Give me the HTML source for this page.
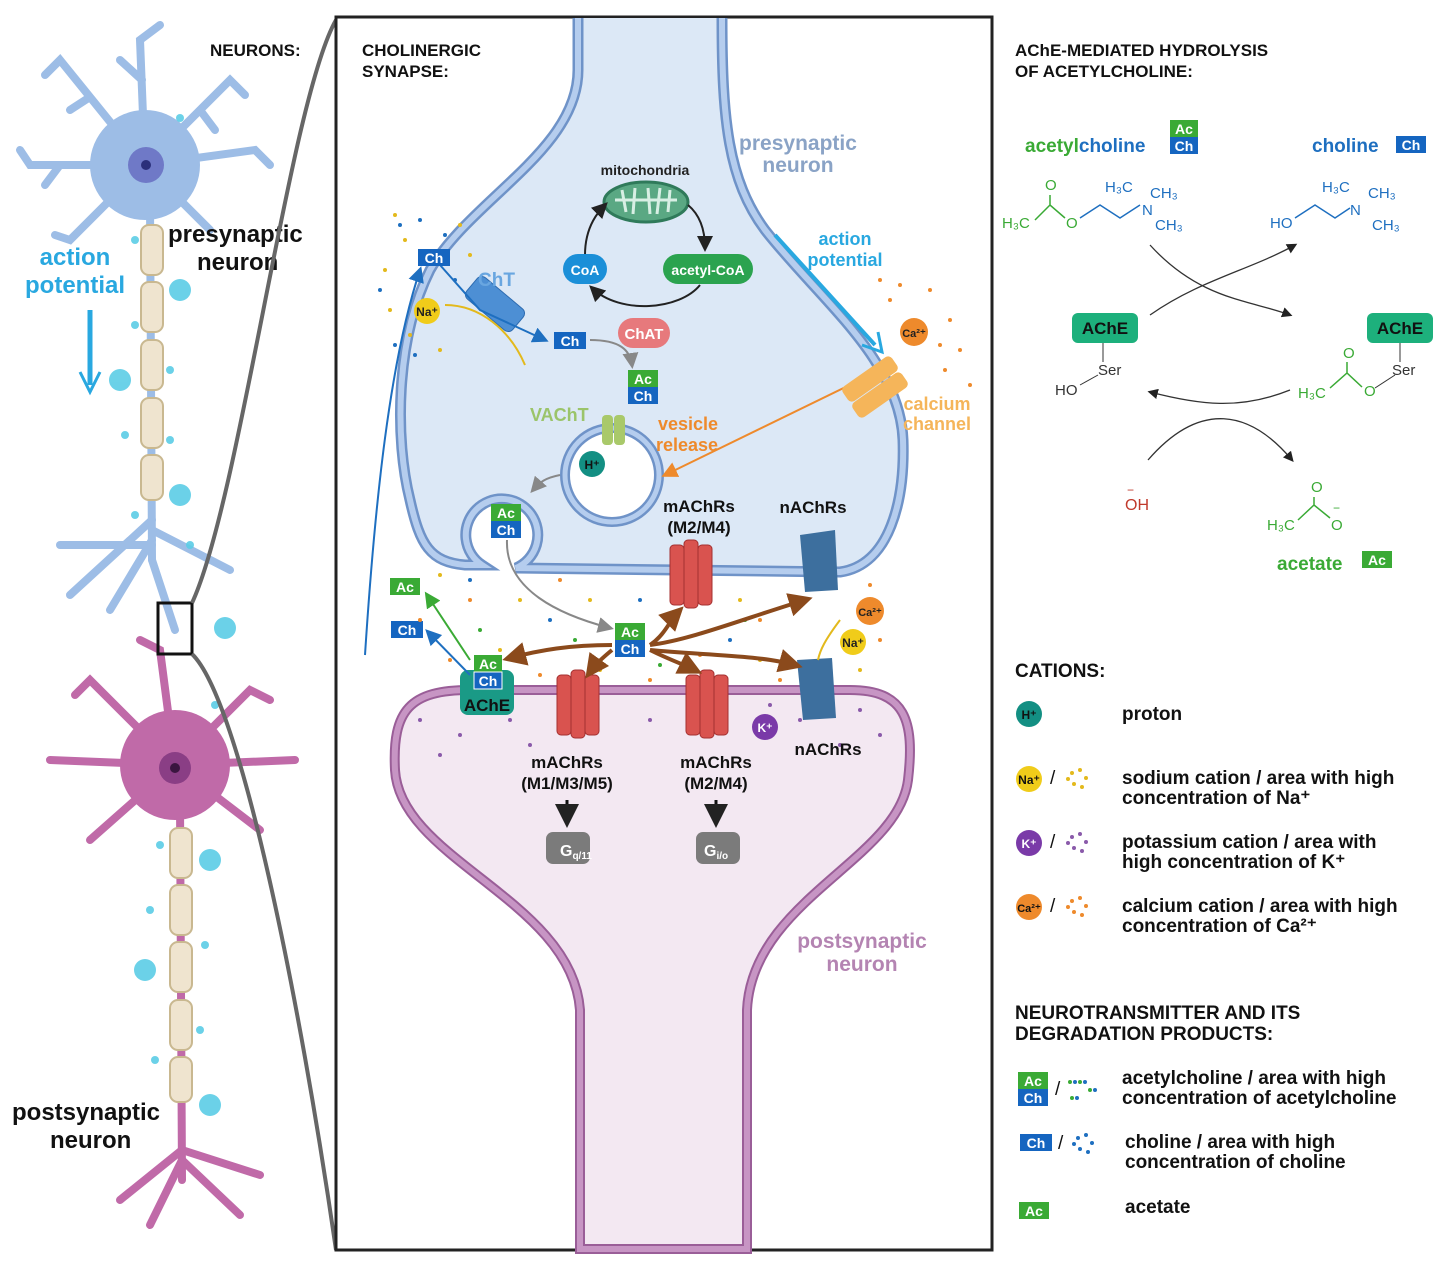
<!DOCTYPE html>
<html><head><meta charset="utf-8"><style>
html,body{margin:0;padding:0;background:#fff}
svg{display:block;font-family:"Liberation Sans",sans-serif}
.b{font-weight:bold}
</style></head><body>
<svg width="1446" height="1265" viewBox="0 0 1446 1265" xmlns="http://www.w3.org/2000/svg">
<defs>
<marker id="ak" markerWidth="8" markerHeight="8" refX="6" refY="4" orient="auto"><path d="M0,0 L8,4 L0,8 Z" fill="#222"/></marker>
<marker id="ag" markerWidth="8" markerHeight="8" refX="6" refY="4" orient="auto"><path d="M0,0 L8,4 L0,8 Z" fill="#888"/></marker>
<marker id="ab" markerWidth="8" markerHeight="8" refX="6" refY="4" orient="auto"><path d="M0,0 L8,4 L0,8 Z" fill="#1e6fc0"/></marker>
<marker id="ao" markerWidth="8" markerHeight="8" refX="6" refY="4" orient="auto"><path d="M0,0 L8,4 L0,8 Z" fill="#ee8a2c"/></marker>
<marker id="abr" markerWidth="6" markerHeight="6" refX="4" refY="3" orient="auto"><path d="M0,0 L6,3 L0,6 Z" fill="#8b4a1c"/></marker>
<marker id="agr" markerWidth="8" markerHeight="8" refX="6" refY="4" orient="auto"><path d="M0,0 L8,4 L0,8 Z" fill="#3aaa35"/></marker>
</defs>

<!-- LEFT: neurons -->
<g stroke="#9dbde6" stroke-width="8" stroke-linecap="round" fill="none">
<path d="M145,165 L60,60 L45,75 M90,97 L70,110"/><path d="M145,165 L140,40 L160,25 M142,80 L120,60"/><path d="M145,165 L230,80 L245,95 M200,110 L215,130"/><path d="M145,165 L30,165 L20,150 M60,165 L45,185"/><path d="M145,165 L255,150 L270,165"/><path d="M145,165 L70,240 L55,235"/><path d="M145,165 L210,230"/>
<path d="M150,200 L152,560"/><path d="M152,520 L70,595"/><path d="M152,540 L110,610"/><path d="M152,530 L230,570"/><path d="M152,560 L175,630"/><path d="M152,545 L60,545"/>
</g>
<circle cx="145" cy="165" r="55" fill="#9dbde6"/><circle cx="146" cy="165" r="18" fill="#6f79c7"/><circle cx="146" cy="165" r="5" fill="#2b2f7a"/>
<g fill="#efe4cf" stroke="#c9b890" stroke-width="2">
<rect x="141" y="225" width="22" height="50" rx="8"/><rect x="141" y="282" width="22" height="50" rx="8"/><rect x="141" y="340" width="22" height="50" rx="8"/><rect x="141" y="398" width="22" height="50" rx="8"/><rect x="141" y="455" width="22" height="45" rx="8"/>
</g>
<g stroke="#c06aa8" stroke-width="8" stroke-linecap="round" fill="none">
<path d="M175,765 L90,680 L75,695"/><path d="M175,765 L160,650 L140,640"/><path d="M175,765 L250,690 L270,700"/><path d="M175,765 L50,760"/><path d="M175,765 L295,760"/><path d="M175,765 L90,840"/><path d="M175,765 L260,830"/>
<path d="M180,800 L182,1180"/><path d="M182,1150 L120,1200"/><path d="M182,1160 L150,1225"/><path d="M182,1160 L240,1215"/><path d="M182,1150 L260,1175"/>
</g>
<circle cx="175" cy="765" r="55" fill="#c06aa8"/><circle cx="175" cy="768" r="16" fill="#8a3e85"/><circle cx="175" cy="768" r="5" fill="#3a1540"/>
<g fill="#efe4cf" stroke="#c9b890" stroke-width="2">
<rect x="170" y="828" width="22" height="50" rx="8"/><rect x="170" y="885" width="22" height="50" rx="8"/><rect x="170" y="942" width="22" height="50" rx="8"/><rect x="170" y="1000" width="22" height="50" rx="8"/><rect x="170" y="1057" width="22" height="45" rx="8"/>
</g>
<g fill="#5ccde6" opacity="0.9">
<circle cx="180" cy="290" r="11"/><circle cx="120" cy="380" r="11"/><circle cx="180" cy="495" r="11"/><circle cx="225" cy="628" r="11"/><circle cx="210" cy="860" r="11"/><circle cx="145" cy="970" r="11"/><circle cx="210" cy="1105" r="11"/>
<circle cx="180" cy="118" r="4"/><circle cx="135" cy="240" r="4"/><circle cx="135" cy="325" r="4"/><circle cx="170" cy="370" r="4"/><circle cx="125" cy="435" r="4"/><circle cx="170" cy="440" r="4"/><circle cx="135" cy="515" r="4"/><circle cx="190" cy="545" r="4"/><circle cx="215" cy="705" r="4"/><circle cx="160" cy="845" r="4"/><circle cx="150" cy="910" r="4"/><circle cx="205" cy="945" r="4"/><circle cx="200" cy="1030" r="4"/><circle cx="155" cy="1060" r="4"/>
</g>
<text x="210" y="56" font-size="17" class="b" fill="#111">NEURONS:</text>
<text x="168" y="242" font-size="24" class="b" fill="#111">presynaptic</text>
<text x="197" y="270" font-size="24" class="b" fill="#111">neuron</text>
<text x="75" y="265" font-size="24" class="b" fill="#29a8e0" text-anchor="middle">action</text>
<text x="75" y="293" font-size="24" class="b" fill="#29a8e0" text-anchor="middle">potential</text>
<path d="M90,310 L90,385" stroke="#29a8e0" stroke-width="5" fill="none"/><path d="M80,372 L90,392 L100,372" stroke="#29a8e0" stroke-width="3" fill="none"/>
<text x="12" y="1120" font-size="24" class="b" fill="#111">postsynaptic</text>
<text x="50" y="1148" font-size="24" class="b" fill="#111">neuron</text>
<rect x="158" y="603" width="34" height="51" fill="none" stroke="#111" stroke-width="3"/>
<path d="M192,603 C240,500 290,100 336,20" stroke="#666" stroke-width="4" fill="none"/>
<path d="M192,654 C240,700 300,1000 336,1250" stroke="#666" stroke-width="4" fill="none"/>

<!-- MIDDLE panel -->
<rect x="336" y="17" width="656" height="1233" fill="#fff" stroke="#222" stroke-width="3"/>
<!-- postsynaptic -->
<path d="M395,770 C392,710 410,690 470,690 L850,690 C905,690 915,720 908,780 C898,860 752,900 747,1010 L747,1249 L580,1249 L580,1010 C572,900 400,860 395,770 Z" fill="#f3e8f2" stroke="#9a5e98" stroke-width="10"/>
<path d="M395,770 C392,710 410,690 470,690 L850,690 C905,690 915,720 908,780 C898,860 752,900 747,1010 L747,1249 L580,1249 L580,1010 C572,900 400,860 395,770 Z" fill="none" stroke="#c795c4" stroke-width="6"/>
<!-- presynaptic -->
<path d="M578,18 L578,70 C578,150 470,200 430,270 C395,340 395,440 410,500 C420,545 430,562 465,565 L482,565 A36,36 0 1 1 516,568 L840,572 C890,565 905,500 903,440 C900,360 820,300 765,230 C728,180 722,120 722,18" fill="#dce8f6" stroke="#6f93c8" stroke-width="11"/>
<path d="M578,18 L578,70 C578,150 470,200 430,270 C395,340 395,440 410,500 C420,545 430,562 465,565 L482,565 A36,36 0 1 1 516,568 L840,572 C890,565 905,500 903,440 C900,360 820,300 765,230 C728,180 722,120 722,18" fill="none" stroke="#b5cdee" stroke-width="6"/>
<text x="362" y="56" font-size="17" class="b" fill="#111">CHOLINERGIC</text>
<text x="362" y="77" font-size="17" class="b" fill="#111">SYNAPSE:</text>
<text x="798" y="150" font-size="21" class="b" fill="#8aa3c6" text-anchor="middle">presynaptic</text>
<text x="798" y="172" font-size="21" class="b" fill="#8aa3c6" text-anchor="middle">neuron</text>
<text x="862" y="948" font-size="21" class="b" fill="#b484b2" text-anchor="middle">postsynaptic</text>
<text x="862" y="971" font-size="21" class="b" fill="#b484b2" text-anchor="middle">neuron</text>
<!-- mitochondria cycle -->
<text x="645" y="175" font-size="14" class="b" fill="#222" text-anchor="middle">mitochondria</text>
<ellipse cx="646" cy="202" rx="42" ry="20" fill="#5aa883" stroke="#2f7a5a" stroke-width="3"/>
<path d="M615,200 L677,200 M622,190 L626,212 M635,188 L633,214 M648,188 L650,214 M660,188 L657,214 M670,190 L668,212" stroke="#d8efe4" stroke-width="3"/>
<path d="M585,255 C585,225 600,210 605,205" stroke="#222" stroke-width="2" fill="none" marker-end="url(#ak)"/>
<path d="M688,205 C700,215 705,230 705,248" stroke="#222" stroke-width="2" fill="none" marker-end="url(#ak)"/>
<path d="M700,285 C680,310 620,315 592,288" stroke="#222" stroke-width="2" fill="none" marker-end="url(#ak)"/>
<rect x="563" y="254" width="44" height="30" rx="15" fill="#1b8fd8"/><text x="585" y="275" font-size="14" class="b" fill="#fff" text-anchor="middle">CoA</text>
<rect x="663" y="254" width="90" height="30" rx="15" fill="#2ba34f"/><text x="708" y="275" font-size="14" class="b" fill="#fff" text-anchor="middle">acetyl-CoA</text>
<rect x="618" y="318" width="52" height="30" rx="15" fill="#e7797c"/><text x="644" y="339" font-size="15" class="b" fill="#fff" text-anchor="middle">ChAT</text>
<!-- ChT -->
<rect x="465" y="290" width="60" height="28" rx="6" fill="#4d8fd4" stroke="#2d6bb0" transform="rotate(40 495 304)"/>
<text x="478" y="286" font-size="19" class="b" fill="#69a6e0">ChT</text>
<path d="M440,265 L480,310 L545,340" stroke="#1e6fc0" stroke-width="2" fill="none" marker-end="url(#ab)"/>
<path d="M445,305 C480,305 510,330 525,365" stroke="#e3b91c" stroke-width="2" fill="none"/>
<circle cx="427" cy="311" r="13" fill="#f0cc1a"/><text x="427" y="316" font-size="12" class="b" text-anchor="middle" fill="#222">Na⁺</text>
<path d="M365,655 C375,500 390,360 420,270" stroke="#1e6fc0" stroke-width="2" fill="none" marker-end="url(#ab)"/>
<!-- Ch / AcCh boxes -->
<g font-size="14" class="b" text-anchor="middle" fill="#fff">
<rect x="418" y="249" width="32" height="17" fill="#1565c0"/><text x="434" y="263">Ch</text>
<rect x="554" y="332" width="32" height="17" fill="#1565c0"/><text x="570" y="346">Ch</text>
<rect x="628" y="370" width="30" height="17" fill="#3aaa35"/><text x="643" y="384">Ac</text>
<rect x="628" y="387" width="30" height="17" fill="#1565c0"/><text x="643" y="401">Ch</text>
<rect x="612" y="464" width="30" height="17" fill="#3aaa35"/><text x="627" y="478">Ac</text>
<rect x="612" y="481" width="30" height="17" fill="#1565c0"/><text x="627" y="495">Ch</text>
<rect x="491" y="504" width="30" height="17" fill="#3aaa35"/><text x="506" y="518">Ac</text>
<rect x="491" y="521" width="30" height="17" fill="#1565c0"/><text x="506" y="535">Ch</text>
<rect x="615" y="623" width="30" height="17" fill="#3aaa35"/><text x="630" y="637">Ac</text>
<rect x="615" y="640" width="30" height="17" fill="#1565c0"/><text x="630" y="654">Ch</text>
<rect x="390" y="578" width="30" height="17" fill="#3aaa35"/><text x="405" y="592">Ac</text>
<rect x="391" y="621" width="32" height="17" fill="#1565c0"/><text x="407" y="635">Ch</text>
</g>
<path d="M590,340 C620,340 630,350 632,365" stroke="#888" stroke-width="2" fill="none" marker-end="url(#ag)"/>
<!-- VAChT & vesicle -->
<text x="530" y="421" font-size="18" class="b" fill="#9bc46a">VAChT</text>
<circle cx="612" cy="475" r="47" fill="#fff" stroke="#6f93c8" stroke-width="10"/>
<circle cx="612" cy="475" r="47" fill="none" stroke="#b5cdee" stroke-width="5"/>
<rect x="602" y="415" width="11" height="30" rx="4" fill="#a9c96a"/><rect x="614" y="415" width="11" height="30" rx="4" fill="#a9c96a"/>
<circle cx="592" cy="464" r="13" fill="#138f83"/><text x="592" y="469" font-size="12" class="b" fill="#111" text-anchor="middle">H⁺</text>
<text x="658" y="430" font-size="18" class="b" fill="#ee8a2c">vesicle</text>
<text x="656" y="451" font-size="18" class="b" fill="#ee8a2c">release</text>
<path d="M860,380 L665,475" stroke="#ee8a2c" stroke-width="2" fill="none" marker-end="url(#ao)"/>
<path d="M560,475 C545,478 540,482 533,490" stroke="#888" stroke-width="2" fill="none" marker-end="url(#ag)"/>
<path d="M507,540 C505,590 560,615 610,628" stroke="#888" stroke-width="2" fill="none" marker-end="url(#ag)"/>
<!-- calcium channel, action potential -->
<text x="845" y="245" font-size="18" class="b" fill="#29a8e0" text-anchor="middle">action</text>
<text x="845" y="266" font-size="18" class="b" fill="#29a8e0" text-anchor="middle">potential</text>
<path d="M775,235 L875,345" stroke="#29a8e0" stroke-width="4" fill="none"/><path d="M862,345 L882,352 L878,332" stroke="#29a8e0" stroke-width="3" fill="none"/>
<rect x="840" y="370" width="60" height="18" rx="5" fill="#f5b55a" transform="rotate(-35 870 379)"/><rect x="850" y="386" width="60" height="18" rx="5" fill="#f5b55a" transform="rotate(-35 880 395)"/>
<circle cx="914" cy="332" r="14" fill="#ee8a2c"/><text x="914" y="337" font-size="11" class="b" fill="#222" text-anchor="middle">Ca²⁺</text>
<text x="937" y="410" font-size="18" class="b" fill="#f5b55a" text-anchor="middle">calcium</text>
<text x="937" y="430" font-size="18" class="b" fill="#f5b55a" text-anchor="middle">channel</text>
<!-- dots -->
<g fill="#ee8a2c"><circle cx="890" cy="300" r="2"/><circle cx="930" cy="290" r="2"/><circle cx="950" cy="320" r="2"/><circle cx="960" cy="350" r="2"/><circle cx="945" cy="370" r="2"/><circle cx="970" cy="385" r="2"/><circle cx="900" cy="285" r="2"/><circle cx="940" cy="345" r="2"/><circle cx="880" cy="280" r="2"/>
<circle cx="420" cy="620" r="2"/><circle cx="470" cy="600" r="2"/><circle cx="560" cy="580" r="2"/><circle cx="700" cy="655" r="2"/><circle cx="760" cy="620" r="2"/><circle cx="870" cy="585" r="2"/><circle cx="880" cy="640" r="2"/><circle cx="540" cy="675" r="2"/><circle cx="650" cy="680" r="2"/><circle cx="450" cy="660" r="2"/><circle cx="780" cy="680" r="2"/></g>
<g fill="#e3b91c"><circle cx="395" cy="215" r="2"/><circle cx="405" cy="240" r="2"/><circle cx="385" cy="270" r="2"/><circle cx="390" cy="310" r="2"/><circle cx="410" cy="335" r="2"/><circle cx="440" cy="350" r="2"/><circle cx="460" cy="225" r="2"/><circle cx="470" cy="255" r="2"/><circle cx="440" cy="575" r="2"/><circle cx="520" cy="600" r="2"/><circle cx="590" cy="600" r="2"/><circle cx="740" cy="600" r="2"/><circle cx="760" cy="660" r="2"/><circle cx="600" cy="670" r="2"/><circle cx="500" cy="650" r="2"/><circle cx="860" cy="670" r="2"/></g>
<g fill="#1e6fc0"><circle cx="400" cy="225" r="2"/><circle cx="420" cy="220" r="2"/><circle cx="445" cy="235" r="2"/><circle cx="380" cy="290" r="2"/><circle cx="395" cy="345" r="2"/><circle cx="415" cy="355" r="2"/><circle cx="455" cy="280" r="2"/><circle cx="470" cy="580" r="2"/><circle cx="550" cy="620" r="2"/><circle cx="680" cy="590" r="2"/><circle cx="730" cy="640" r="2"/><circle cx="640" cy="600" r="2"/></g>
<g fill="#3aaa35"><circle cx="480" cy="630" r="2"/><circle cx="575" cy="640" r="2"/><circle cx="660" cy="665" r="2"/><circle cx="745" cy="620" r="2"/><circle cx="525" cy="660" r="2"/></g>
<g fill="#8a5aaa"><circle cx="420" cy="720" r="2"/><circle cx="460" cy="735" r="2"/><circle cx="510" cy="720" r="2"/><circle cx="440" cy="755" r="2"/><circle cx="530" cy="745" r="2"/><circle cx="770" cy="705" r="2"/><circle cx="800" cy="720" r="2"/><circle cx="860" cy="710" r="2"/><circle cx="880" cy="735" r="2"/><circle cx="650" cy="720" r="2"/><circle cx="840" cy="745" r="2"/></g>
<!-- AChE postsynaptic -->
<rect x="460" y="670" width="54" height="45" rx="8" fill="#1a9a86"/>
<g font-size="14" class="b" text-anchor="middle" fill="#fff">
<rect x="474" y="655" width="28" height="17" fill="#3aaa35"/><text x="488" y="669">Ac</text>
<rect x="474" y="672" width="28" height="17" fill="#1565c0" stroke="#fff"/><text x="488" y="686">Ch</text></g>
<text x="487" y="711" font-size="17" class="b" fill="#111" text-anchor="middle">AChE</text>
<path d="M470,660 L427,595" stroke="#3aaa35" stroke-width="2" fill="none" marker-end="url(#agr)"/>
<path d="M470,675 L428,632" stroke="#1e6fc0" stroke-width="2" fill="none" marker-end="url(#ab)"/>
<!-- receptors -->
<g fill="#d9534f" stroke="#a43030" stroke-width="1">
<rect x="670" y="545" width="14" height="60" rx="4"/><rect x="684" y="540" width="14" height="68" rx="4"/><rect x="698" y="545" width="14" height="60" rx="4"/>
<rect x="557" y="675" width="14" height="60" rx="4"/><rect x="571" y="670" width="14" height="68" rx="4"/><rect x="585" y="675" width="14" height="60" rx="4"/>
<rect x="686" y="675" width="14" height="60" rx="4"/><rect x="700" y="670" width="14" height="68" rx="4"/><rect x="714" y="675" width="14" height="60" rx="4"/>
</g>
<g fill="#3d6f9e"><path d="M800,535 L835,530 L838,590 L805,592 Z"/><path d="M797,660 L832,658 L836,718 L803,720 Z"/></g>
<text x="699" y="512" font-size="17" class="b" fill="#111" text-anchor="middle">mAChRs</text>
<text x="699" y="533" font-size="17" class="b" fill="#111" text-anchor="middle">(M2/M4)</text>
<text x="813" y="513" font-size="17" class="b" fill="#111" text-anchor="middle">nAChRs</text>
<text x="828" y="755" font-size="17" class="b" fill="#111" text-anchor="middle">nAChRs</text>
<text x="567" y="768" font-size="17" class="b" fill="#111" text-anchor="middle">mAChRs</text>
<text x="567" y="789" font-size="17" class="b" fill="#111" text-anchor="middle">(M1/M3/M5)</text>
<text x="716" y="768" font-size="17" class="b" fill="#111" text-anchor="middle">mAChRs</text>
<text x="716" y="789" font-size="17" class="b" fill="#111" text-anchor="middle">(M2/M4)</text>
<path d="M567,800 L567,822" stroke="#111" stroke-width="3" marker-end="url(#ak)"/>
<path d="M716,800 L716,822" stroke="#111" stroke-width="3" marker-end="url(#ak)"/>
<rect x="546" y="832" width="44" height="32" rx="7" fill="#7b7b7b"/><text x="560" y="856" font-size="16" class="b" fill="#fff">G<tspan font-size="10" dy="3">q/11</tspan></text>
<rect x="696" y="832" width="44" height="32" rx="7" fill="#7b7b7b"/><text x="704" y="856" font-size="16" class="b" fill="#fff">G<tspan font-size="10" dy="3">i/o</tspan></text>
<!-- brown arrows -->
<g stroke="#8b4a1c" stroke-width="4" fill="none" marker-end="url(#abr)">
<path d="M612,645 C570,645 540,650 510,658"/><path d="M612,650 C600,660 595,665 590,672"/><path d="M650,645 C665,635 670,620 678,612"/><path d="M650,645 C690,640 740,620 805,600"/><path d="M650,650 C670,660 685,665 695,670"/><path d="M650,650 C700,655 760,655 795,665"/>
</g>
<circle cx="870" cy="611" r="14" fill="#ee8a2c"/><text x="870" y="616" font-size="11" class="b" fill="#222" text-anchor="middle">Ca²⁺</text>
<circle cx="853" cy="642" r="13" fill="#f0cc1a"/><text x="853" y="647" font-size="12" class="b" fill="#222" text-anchor="middle">Na⁺</text>
<circle cx="765" cy="727" r="13" fill="#7a3aa8"/><text x="765" y="732" font-size="12" class="b" fill="#fff" text-anchor="middle">K⁺</text>
<path d="M840,620 C825,640 820,650 818,660" stroke="#e3b91c" stroke-width="2" fill="none"/>

<!-- RIGHT panel -->
<text x="1015" y="56" font-size="17" class="b" fill="#111">AChE-MEDIATED HYDROLYSIS</text>
<text x="1015" y="77" font-size="17" class="b" fill="#111">OF ACETYLCHOLINE:</text>
<text x="1025" y="152" font-size="19" class="b" fill="#3aaa35">acetyl<tspan fill="#1e6fc0">choline</tspan></text>
<g font-size="14" class="b" text-anchor="middle" fill="#fff">
<rect x="1170" y="120" width="28" height="17" fill="#3aaa35"/><text x="1184" y="134">Ac</text>
<rect x="1170" y="137" width="28" height="17" fill="#1565c0"/><text x="1184" y="151">Ch</text>
<rect x="1396" y="136" width="30" height="17" fill="#1565c0"/><text x="1411" y="150">Ch</text>
<rect x="1362" y="551" width="30" height="17" fill="#3aaa35"/><text x="1377" y="565">Ac</text>
</g>
<text x="1312" y="152" font-size="19" class="b" fill="#1e6fc0">choline</text>
<g font-size="15" fill="#3aaa35"><text x="1002" y="228">H₃C</text><text x="1045" y="190">O</text><text x="1066" y="228">O</text>
<path d="M1035,220 L1050,205 L1065,218 M1050,205 L1050,195" stroke="#3aaa35" stroke-width="1.5" fill="none"/></g>
<path d="M1080,218 L1100,205 L1120,218 L1140,205" stroke="#1e6fc0" stroke-width="1.5" fill="none"/>
<g font-size="15" fill="#1e6fc0"><text x="1105" y="192">H₃C</text><text x="1150" y="198">CH₃</text><text x="1142" y="215">N</text><text x="1155" y="230">CH₃</text>
<text x="1270" y="228">HO</text><text x="1322" y="192">H₃C</text><text x="1368" y="198">CH₃</text><text x="1350" y="215">N</text><text x="1372" y="230">CH₃</text></g>
<path d="M1295,218 L1315,205 L1335,218 L1350,208" stroke="#1e6fc0" stroke-width="1.5" fill="none"/>
<path d="M1150,245 C1200,300 1250,300 1290,315" stroke="#333" stroke-width="1.3" fill="none" marker-end="url(#ak)"/>
<path d="M1150,315 C1200,280 1250,270 1295,245" stroke="#333" stroke-width="1.3" fill="none" marker-end="url(#ak)"/>
<path d="M1290,390 C1240,410 1200,405 1150,392" stroke="#333" stroke-width="1.3" fill="none" marker-end="url(#ak)"/>
<path d="M1148,460 C1200,400 1250,410 1292,460" stroke="#333" stroke-width="1.3" fill="none" marker-end="url(#ak)"/>
<rect x="1072" y="313" width="66" height="30" rx="6" fill="#1db07c"/><text x="1105" y="334" font-size="17" class="b" fill="#111" text-anchor="middle">AChE</text>
<rect x="1367" y="313" width="66" height="30" rx="6" fill="#1db07c"/><text x="1400" y="334" font-size="17" class="b" fill="#111" text-anchor="middle">AChE</text>
<path d="M1103,343 L1103,362 M1400,343 L1400,362" stroke="#333"/>
<text x="1098" y="375" font-size="15" fill="#333">Ser</text><text x="1392" y="375" font-size="15" fill="#333">Ser</text>
<text x="1055" y="395" font-size="15" fill="#333">HO</text><path d="M1080,385 L1098,375" stroke="#333"/>
<g font-size="15" fill="#3aaa35"><text x="1298" y="398">H₃C</text><text x="1343" y="358">O</text><text x="1364" y="396">O</text>
<text x="1267" y="530">H₃C</text><text x="1311" y="492">O</text><text x="1331" y="530">O</text><text x="1333" y="512" font-size="12">−</text></g>
<path d="M1330,388 L1347,373 L1362,387 M1347,373 L1347,362" stroke="#3aaa35" stroke-width="1.5" fill="none"/>
<path d="M1298,520 L1314,505 L1330,518 M1314,505 L1314,497" stroke="#3aaa35" stroke-width="1.5" fill="none"/>
<path d="M1375,388 L1395,375" stroke="#333"/>
<text x="1125" y="510" font-size="16" fill="#c0392b">OH</text><text x="1127" y="494" font-size="12" fill="#c0392b">−</text>
<text x="1277" y="570" font-size="19" class="b" fill="#3aaa35">acetate</text>

<text x="1015" y="677" font-size="19" class="b" fill="#111">CATIONS:</text>
<circle cx="1029" cy="714" r="13" fill="#138f83"/><text x="1029" y="719" font-size="12" class="b" text-anchor="middle" fill="#111">H⁺</text>
<text x="1122" y="720" font-size="19" class="b" fill="#111">proton</text>
<circle cx="1029" cy="779" r="13" fill="#f0cc1a"/><text x="1029" y="784" font-size="12" class="b" text-anchor="middle" fill="#111">Na⁺</text>
<circle cx="1029" cy="843" r="13" fill="#7a3aa8"/><text x="1029" y="848" font-size="12" class="b" text-anchor="middle" fill="#fff">K⁺</text>
<circle cx="1029" cy="907" r="13" fill="#ee8a2c"/><text x="1029" y="912" font-size="11" class="b" text-anchor="middle" fill="#111">Ca²⁺</text>
<g font-size="19" fill="#111"><text x="1050" y="784">/</text><text x="1050" y="848">/</text><text x="1050" y="912">/</text><text x="1055" y="1095">/</text><text x="1058" y="1149">/</text></g>
<g fill="#e3b91c"><circle cx="1072" cy="773" r="2"/><circle cx="1080" cy="770" r="2"/><circle cx="1086" cy="778" r="2"/><circle cx="1074" cy="784" r="2"/><circle cx="1082" cy="787" r="2"/><circle cx="1068" cy="779" r="2"/></g>
<g fill="#8a5aaa"><circle cx="1072" cy="837" r="2"/><circle cx="1080" cy="834" r="2"/><circle cx="1086" cy="842" r="2"/><circle cx="1074" cy="848" r="2"/><circle cx="1082" cy="851" r="2"/><circle cx="1068" cy="843" r="2"/></g>
<g fill="#ee8a2c"><circle cx="1072" cy="901" r="2"/><circle cx="1080" cy="898" r="2"/><circle cx="1086" cy="906" r="2"/><circle cx="1074" cy="912" r="2"/><circle cx="1082" cy="915" r="2"/><circle cx="1068" cy="907" r="2"/></g>
<g fill="#1e6fc0"><circle cx="1078" cy="1138" r="2"/><circle cx="1086" cy="1135" r="2"/><circle cx="1092" cy="1143" r="2"/><circle cx="1080" cy="1149" r="2"/><circle cx="1088" cy="1152" r="2"/><circle cx="1074" cy="1144" r="2"/></g>
<g fill="#3aaa35"><circle cx="1070" cy="1082" r="2"/><circle cx="1080" cy="1082" r="2"/><circle cx="1090" cy="1090" r="2"/><circle cx="1072" cy="1098" r="2"/></g>
<g fill="#1e6fc0"><circle cx="1075" cy="1082" r="2"/><circle cx="1085" cy="1082" r="2"/><circle cx="1095" cy="1090" r="2"/><circle cx="1077" cy="1098" r="2"/></g>
<g font-size="19" class="b" fill="#111">
<text x="1122" y="784">sodium cation / area with high</text><text x="1122" y="804">concentration of Na⁺</text>
<text x="1122" y="848">potassium cation / area with</text><text x="1122" y="868">high concentration of K⁺</text>
<text x="1122" y="912">calcium cation / area with high</text><text x="1122" y="932">concentration of Ca²⁺</text>
<text x="1015" y="1019">NEUROTRANSMITTER AND ITS</text><text x="1015" y="1040">DEGRADATION PRODUCTS:</text>
<text x="1122" y="1084">acetylcholine / area with high</text><text x="1122" y="1104">concentration of acetylcholine</text>
<text x="1125" y="1148">choline / area with high</text><text x="1125" y="1168">concentration of choline</text>
<text x="1125" y="1213">acetate</text>
</g>
<g font-size="14" class="b" text-anchor="middle" fill="#fff">
<rect x="1018" y="1072" width="30" height="17" fill="#3aaa35"/><text x="1033" y="1086">Ac</text>
<rect x="1018" y="1089" width="30" height="17" fill="#1565c0"/><text x="1033" y="1103">Ch</text>
<rect x="1020" y="1134" width="32" height="17" fill="#1565c0"/><text x="1036" y="1148">Ch</text>
<rect x="1019" y="1202" width="30" height="17" fill="#3aaa35"/><text x="1034" y="1216">Ac</text>
</g>
</svg>
</body></html>
